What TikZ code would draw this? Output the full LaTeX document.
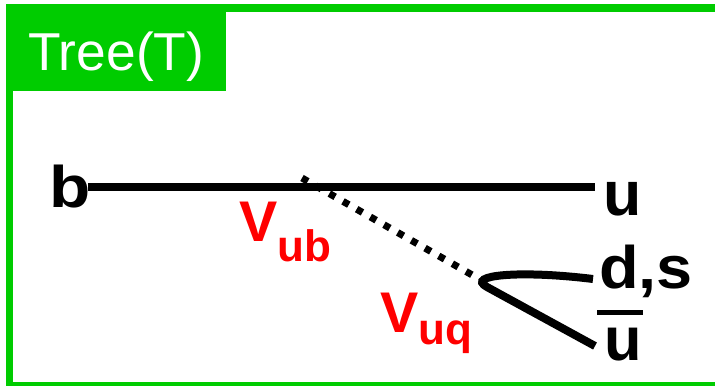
\documentclass[tikz,border=0pt]{standalone}
\usepackage{fontspec}
\setmainfont{Liberation Sans}
\usetikzlibrary{positioning}
\definecolor{treegreen}{HTML}{00CC00}
\definecolor{ckmred}{HTML}{FF0000}
\tikzset{
  treeframe/.style={draw=treegreen,line width=5.5pt},
  tagbox/.style={fill=treegreen,text=white,inner sep=0pt,anchor=north west,
                 minimum width=165pt,text height=49.5pt,text depth=15.75pt,
                 font=\fontsize{40}{48}\selectfont},
  quark/.style={inner sep=0pt,anchor=base west,font=\bfseries\fontsize{44}{52}\selectfont},
  ckm/.style={quark,text=ckmred,font=\bfseries\fontsize{43}{50}\selectfont},
  prop/.style={line width=6pt},
  wline/.style={line width=5.25pt,dash pattern=on 5pt off 6.8pt},
}
\begin{document}
\begin{tikzpicture}[x=0.75pt,y=-0.75pt]
  \useasboundingbox (0,0) rectangle (715,386);
  \draw[treeframe] (9.5,8) rectangle (722,385.5);
  \node[tagbox] (tag) at (6,4) {Tree(T)};

  % quark lines
  \node[quark] (b) at (49,207) {\scalebox{1.15}[1]{b}};
  \node[quark,font=\bfseries\fontsize{47}{54}\selectfont] (u) at (603,215) {u};
  \node[quark,font=\bfseries\fontsize{45}{52}\selectfont] (ds) at (599,288) {\scalebox{1.08}[1]{d,s}};
  \node[quark,font=\bfseries\fontsize{46}{54}\selectfont] (ubar) at (604,360)
       {\makebox[0pt][l]{\hspace{-5.25pt}\rule[33.5pt]{34.5pt}{3.75pt}}u};

  \coordinate (bl) at (88,187);
  \coordinate (ur) at (595,187);
  \coordinate (wv) at (302,178);
  \coordinate (vtx) at (481,280);
  \coordinate (dsl) at (593,279);
  \coordinate (ubl) at (595,346);

  \draw[prop] (bl) -- (ur);
  \draw[wline] (wv) -- (vtx);
  \draw[prop] (dsl) .. controls (520,270) and (465,275) .. (487,287) -- (ubl);

  % CKM factors
  \node[ckm] (vub) at (239,241) {V\raisebox{-15pt}{\fontsize{33}{40}\selectfont ub}};
  \node[ckm] (vuq) at (380,332) {V\raisebox{-9.5pt}{\fontsize{33}{40}\selectfont uq}};
\end{tikzpicture}
\end{document}
